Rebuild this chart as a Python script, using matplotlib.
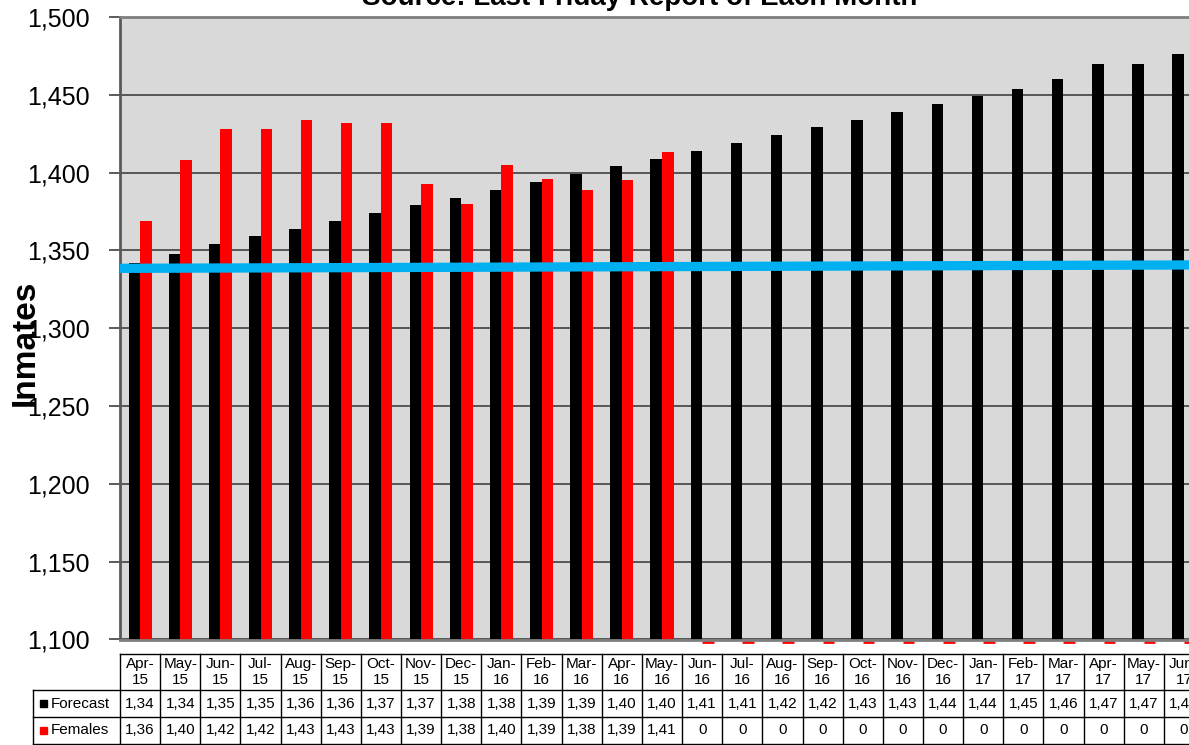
import matplotlib
matplotlib.use("Agg")
import matplotlib.pyplot as plt
from matplotlib.lines import Line2D
from matplotlib.patches import Rectangle
from matplotlib.ticker import FuncFormatter
from matplotlib.transforms import blended_transform_factory, ScaledTranslation

plt.rcParams["font.family"] = ["Liberation Sans", "DejaVu Sans"]

# ---- data -------------------------------------------------------------
months = ["Apr-15", "May-15", "Jun-15", "Jul-15", "Aug-15", "Sep-15", "Oct-15",
          "Nov-15", "Dec-15", "Jan-16", "Feb-16", "Mar-16", "Apr-16", "May-16",
          "Jun-16", "Jul-16", "Aug-16", "Sep-16", "Oct-16", "Nov-16", "Dec-16",
          "Jan-17", "Feb-17", "Mar-17", "Apr-17", "May-17", "Jun-17"]
forecast = [1342, 1348, 1354, 1359, 1364, 1369, 1374, 1379, 1384, 1389, 1394,
            1399, 1404, 1409, 1414, 1419, 1424, 1429, 1434, 1439, 1444, 1449,
            1454, 1460, 1470, 1470, 1476]
females = [1369, 1408, 1428, 1428, 1434, 1432, 1432, 1393, 1380, 1405, 1396,
           1389, 1395, 1413, 0, 0, 0, 0, 0, 0, 0, 0, 0, 0, 0, 0, 0]
trend_ends = [1338.5, 1340.7]
y_ticks = [1100, 1150, 1200, 1250, 1300, 1350, 1400, 1450, 1500]
series_names = ["Forecast", "Females"]
title = "Source: Last Friday Report of Each Month"
y_label = "Inmates"

# ---- layout -------------------------------------------------------------
W, H = 1189, 745
fig = plt.figure(figsize=(W / 100, H / 100), dpi=100)


def fx(px):
    return px / W


def fy(py):
    return 1 - py / H


ax_left, ax_right, ax_top, ax_bottom = 120, 1204, 17, 639.5
ax = fig.add_axes([fx(ax_left), fy(ax_bottom), fx(ax_right - ax_left),
                   (ax_bottom - ax_top) / H])
ax.set_facecolor("#D9D9D9")

n = len(months)
x = list(range(n))
bw = 0.287
colors = ["#000000", "#FF0000"]

ax.bar([i - bw / 2 for i in x], forecast, width=bw, color=colors[0], zorder=2)
ax.bar([i + bw / 2 for i in x], females, width=bw, color=colors[1], zorder=2)

ax.set_ylim(y_ticks[0], y_ticks[-1])
ax.set_xlim(-0.5, n - 0.5)

# values under the axis floor show as a thin mark just below the baseline
floor = y_ticks[0]
below = ax.transData + ScaledTranslation(0, -2.5 / 100, fig.dpi_scale_trans)
for i, v in zip(x, females):
    if v < floor:
        ax.plot([i, i + bw], [floor, floor], color=colors[1], lw=2.0,
                solid_capstyle="butt", clip_on=False, zorder=1,
                transform=below)

# trend line
ax.plot([-0.5, n - 0.5], trend_ends, color="#00B0F0", lw=6.7,
        solid_capstyle="butt", zorder=3)

ax.set_yticks(y_ticks)
ax.yaxis.set_major_formatter(FuncFormatter(lambda v, p: f"{int(v):,}"))
ax.tick_params(axis="y", labelsize=18, length=8, width=1.2, color="#404040",
               pad=14, labelcolor="#000000")
ax.set_xticks([])
ax.grid(axis="y", color="#333333", lw=1.1, zorder=0)
ax.set_axisbelow(True)
for side in ["left", "bottom", "top", "right"]:
    ax.spines[side].set_color("#7F7F7F")
    ax.spines[side].set_linewidth(2)
ax.spines["left"].set_color("#595959")

fig.text(0.538, fy(5), title, ha="center", va="baseline", fontsize=20,
         fontweight="bold")
fig.text(fx(25), fy(343), y_label, rotation=90, ha="center", va="center",
         fontsize=24, fontweight="bold")

# ---- data table -----------------------------------------------------------
tr = blended_transform_factory(ax.transData, fig.transFigure)
row_top, row_h1, row_h2, row_bot = 654, 690, 717, 743.5
lw = 1.0
lc = "#000000"

# horizontal rules
fig.add_artist(Line2D([-0.5, n - 0.5], [fy(row_top), fy(row_top)],
                      transform=tr, color=lc, lw=lw))
for yy in (row_h1, row_h2, row_bot):
    fig.add_artist(Line2D([fx(33), 1.0], [fy(yy), fy(yy)],
                          transform=fig.transFigure, color=lc, lw=lw))
# vertical rules
for i in range(n + 1):
    fig.add_artist(Line2D([i - 0.5, i - 0.5], [fy(row_top), fy(row_bot)],
                          transform=tr, color=lc, lw=lw))
fig.add_artist(Line2D([fx(33), fx(33)], [fy(row_h1), fy(row_bot)],
                      transform=fig.transFigure, color=lc, lw=lw))

# header labels
for i, m in enumerate(months):
    mon, yr = m.split("-")
    fig.text(i, fy((row_top + row_h1) / 2), f"{mon}-\n{yr}", transform=tr,
             ha="center", va="center", fontsize=11, linespacing=1.15)


def cell_text(v):
    return f"{v:,}"[:4]


for vals, y0, y1 in [(forecast, row_h1, row_h2), (females, row_h2, row_bot)]:
    for i, v in enumerate(vals):
        fig.text(i, fy((y0 + y1) / 2), cell_text(v), transform=tr,
                 ha="center", va="center", fontsize=11)

# row headers with colour keys
for name, col, y0, y1 in [(series_names[0], colors[0], row_h1, row_h2),
                          (series_names[1], colors[1], row_h2, row_bot)]:
    yc = (y0 + y1) / 2
    fig.add_artist(Rectangle((fx(40), fy(yc + 3.5)), 7 / W, 7 / H,
                             transform=fig.transFigure, color=col))
    fig.text(fx(51), fy(yc), name, ha="left", va="center", fontsize=11)

fig.savefig("out.png", dpi=100)
